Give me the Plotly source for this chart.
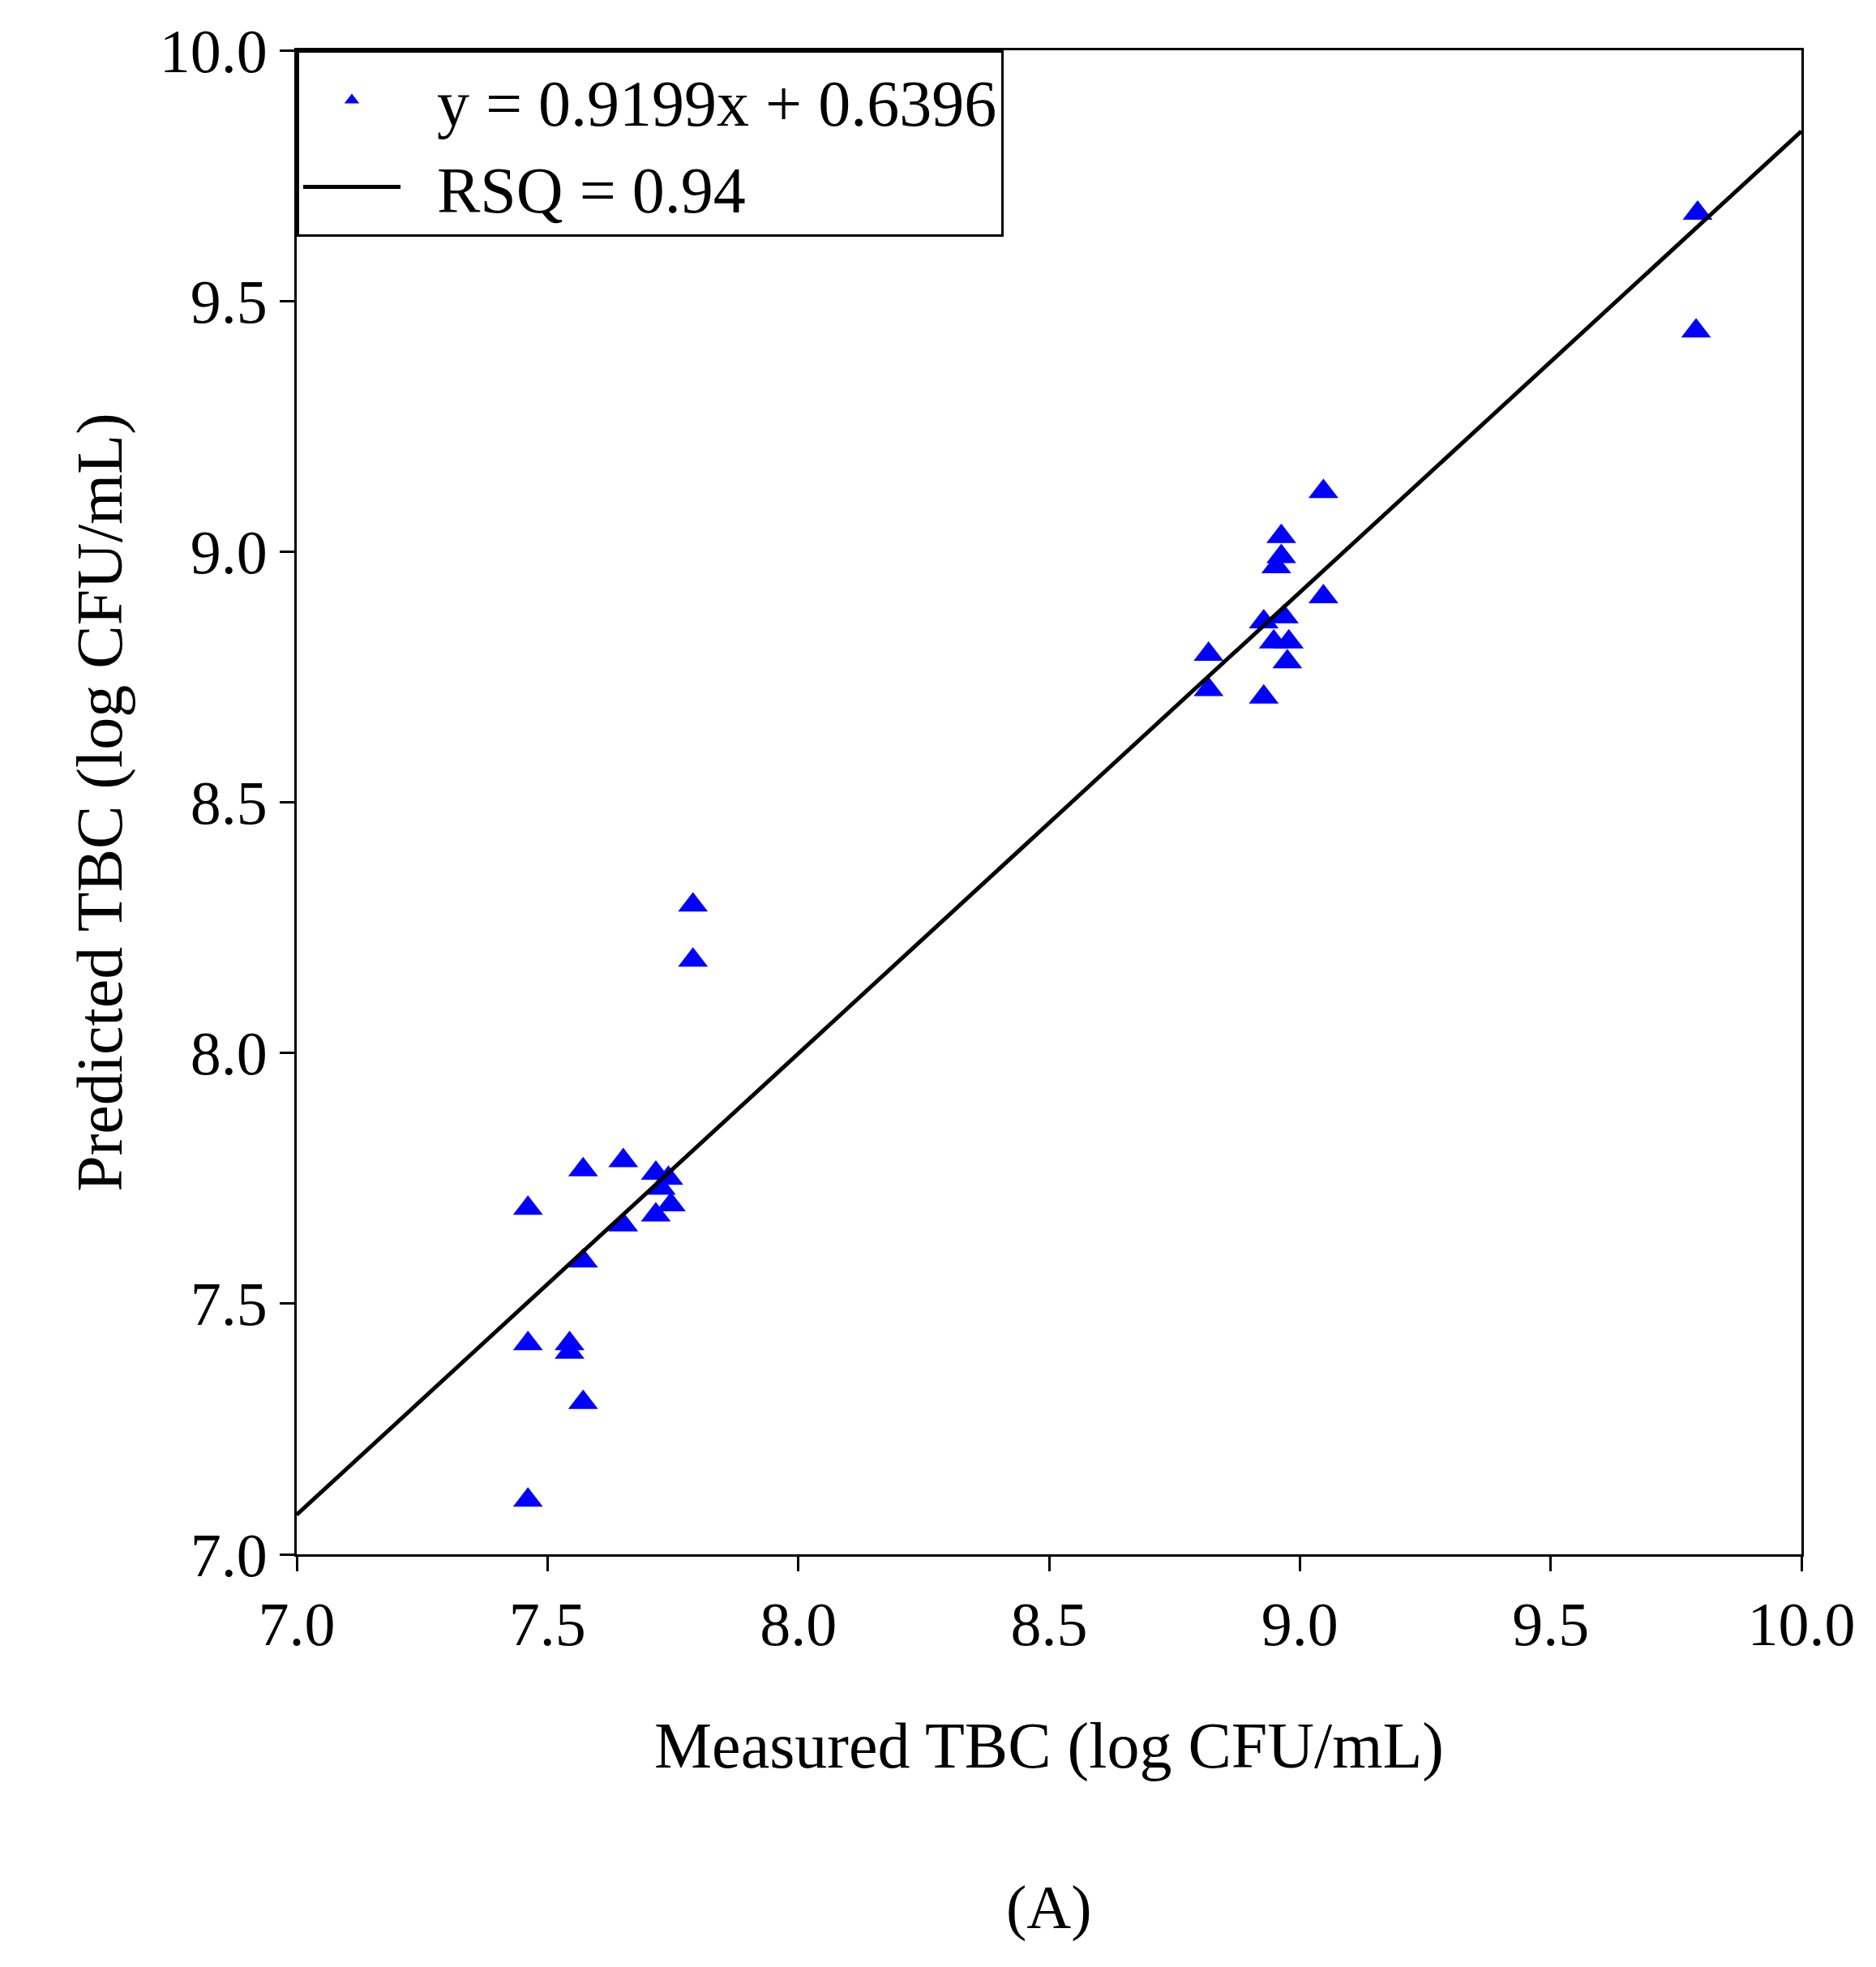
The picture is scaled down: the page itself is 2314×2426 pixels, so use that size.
import plotly.graph_objects as go

measured = [9.793, 9.79, 9.047, 9.047, 8.963, 8.963, 8.953, 8.968, 8.928, 8.948, 8.978, 8.975,
            8.928, 8.818, 8.818, 7.79, 7.79, 7.651, 7.571, 7.716, 7.741, 7.726, 7.651, 7.746,
            7.716, 7.461, 7.571, 7.461, 7.544, 7.544, 7.571, 7.461]
predicted = [9.675, 9.44, 9.12, 8.91, 9.03, 8.99, 8.97, 8.87, 8.86, 8.82, 8.82, 8.78,
             8.71, 8.795, 8.725, 8.295, 8.185, 7.785, 7.767, 7.76, 7.75, 7.73, 7.657, 7.697,
             7.677, 7.69, 7.585, 7.42, 7.42, 7.403, 7.303, 7.108]
slope, intercept = 0.9199, 0.6396
line_x = [7.0, 10.0]
tick_vals = [7.0, 7.5, 8.0, 8.5, 9.0, 9.5, 10.0]
tick_text = ["7.0", "7.5", "8.0", "8.5", "9.0", "9.5", "10.0"]

fig = go.Figure()
fig.add_trace(go.Scatter(x=measured, y=predicted, mode="markers",
                         marker=dict(symbol="triangle-up", color="#0000ff", size=32),
                         name="  y = 0.9199x + 0.6396"))
fig.add_trace(go.Scatter(x=line_x, y=[slope * v + intercept for v in line_x], mode="lines",
                         line=dict(color="black", width=5), name="  RSQ = 0.94"))

font = "Liberation Serif, Times New Roman, serif"
axis = dict(range=[7, 10], tickvals=tick_vals, ticktext=tick_text, showgrid=False, zeroline=False,
            showline=True, linecolor="black", linewidth=3, mirror=True, ticks="outside",
            ticklen=18, tickwidth=3, tickcolor="black", tickfont=dict(size=76, color="black"))
fig.update_layout(
    width=2314, height=2426, paper_bgcolor="white", plot_bgcolor="white",
    font=dict(family=font, color="black"),
    margin=dict(l=358, r=100, t=54, b=517),
    xaxis=dict(axis, title=dict(text="Measured TBC (log CFU/mL)", font=dict(size=80), standoff=80)),
    yaxis=dict(axis, title=dict(text="Predicted TBC (log CFU/mL)", font=dict(size=80), standoff=20)),
    legend=dict(x=0, y=1, xanchor="left", yanchor="top", bordercolor="black", borderwidth=3,
                bgcolor="white", font=dict(size=80), itemwidth=120, tracegroupgap=10),
    annotations=[dict(text="(A)", x=0.5, xref="paper", y=-0.235, yref="paper", yanchor="middle",
                      showarrow=False, font=dict(size=76))],
)
fig.write_html("out.html")
